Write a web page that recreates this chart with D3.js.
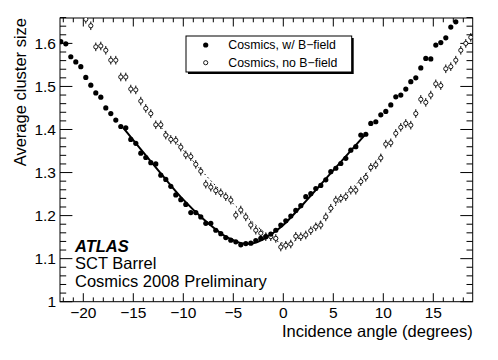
<!DOCTYPE html>
<html lang="en">
<head>
<meta charset="UTF-8" />
<title>SCT Barrel - Average cluster size vs incidence angle</title>
<script src="https://d3js.org/d3.v7.min.js"></script>
<style>
  body { margin: 0; background: #fff; }
  svg { display: block; font-family: "Liberation Sans", Arial, Helvetica, sans-serif; }
</style>
</head>
<body>
<svg width="498" height="360"></svg>
<script>
  // cosmics with magnetic field (filled markers)
  const anglesWithB = [
    -22.25, -21.75, -21.25, -20.75, -20.25, -19.75, -19.25, -18.75, -18.25, -17.75,
    -17.25, -16.75, -16.25, -15.75, -15.25, -14.75, -14.25, -13.75, -13.25, -12.75,
    -12.25, -11.75, -11.25, -10.75, -10.25, -9.75, -9.25, -8.75, -8.25, -7.75,
    -7.25, -6.75, -6.25, -5.75, -5.25, -4.75, -4.25, -3.75, -3.25, -2.75,
    -2.25, -1.75, -1.25, -0.75, -0.25, 0.25, 0.75, 1.25, 1.75, 2.25,
    2.75, 3.25, 3.75, 4.25, 4.75, 5.25, 5.75, 6.25, 6.75, 7.25,
    7.75, 8.25, 8.75, 9.25, 9.75, 10.25, 10.75, 11.25, 11.75, 12.25,
    12.75, 13.25, 13.75, 14.25, 14.75, 15.25, 15.75, 16.25, 16.75, 17.25
  ];
  const sizeWithB = [
    1.604, 1.599, 1.569, 1.557, 1.546, 1.521, 1.503, 1.485, 1.475, 1.450,
    1.437, 1.422, 1.407, 1.404, 1.377, 1.368, 1.345, 1.335, 1.323, 1.320,
    1.294, 1.284, 1.268, 1.248, 1.237, 1.226, 1.207, 1.207, 1.197, 1.182,
    1.182, 1.166, 1.158, 1.149, 1.143, 1.139, 1.132, 1.135, 1.136, 1.142,
    1.147, 1.151, 1.157, 1.166, 1.178, 1.188, 1.199, 1.212, 1.223, 1.244,
    1.251, 1.263, 1.270, 1.283, 1.302, 1.310, 1.321, 1.333, 1.352, 1.360,
    1.387, 1.389, 1.414, 1.418, 1.434, 1.442, 1.457, 1.476, 1.480, 1.494,
    1.511, 1.520, 1.543, 1.565, 1.564, 1.596, 1.602, 1.613, 1.638, 1.650
  ];

  // cosmics without magnetic field (open markers)
  const anglesNoB = [
    -19.75, -19.25, -18.75, -18.25, -17.75, -17.25, -16.75, -16.25, -15.75, -15.25,
    -14.75, -14.25, -13.75, -13.25, -12.75, -12.25, -11.75, -11.25, -10.75, -10.25,
    -9.75, -9.25, -8.75, -8.25, -7.75, -7.25, -6.75, -6.25, -5.75, -5.25,
    -4.75, -4.25, -3.75, -3.25, -2.75, -2.25, -1.75, -1.25, -0.75, -0.25,
    0.25, 0.75, 1.25, 1.75, 2.25, 2.75, 3.25, 3.75, 4.25, 4.75,
    5.25, 5.75, 6.25, 6.75, 7.25, 7.75, 8.25, 8.75, 9.25, 9.75,
    10.25, 10.75, 11.25, 11.75, 12.25, 12.75, 13.25, 13.75, 14.25, 14.75,
    15.25, 15.75, 16.25, 16.75, 17.25, 17.75, 18.25, 18.75
  ];
  const sizeNoB = [
    1.656, 1.641, 1.592, 1.594, 1.584, 1.561, 1.561, 1.522, 1.522, 1.494,
    1.492, 1.466, 1.449, 1.437, 1.411, 1.411, 1.387, 1.377, 1.375, 1.359,
    1.341, 1.337, 1.319, 1.303, 1.273, 1.266, 1.258, 1.253, 1.244, 1.236,
    1.201, 1.213, 1.197, 1.178, 1.166, 1.159, 1.151, 1.151, 1.147, 1.127,
    1.131, 1.134, 1.152, 1.151, 1.155, 1.165, 1.174, 1.178, 1.197, 1.217,
    1.236, 1.240, 1.244, 1.259, 1.259, 1.279, 1.289, 1.312, 1.318, 1.334,
    1.366, 1.369, 1.391, 1.405, 1.414, 1.410, 1.437, 1.470, 1.463, 1.480,
    1.506, 1.502, 1.541, 1.546, 1.561, 1.584, 1.600, 1.614
  ];
  const errNoB = 0.010;

  // fitted curves
  const fitWithBAngles = [-16, -14, -12, -10, -8, -6, -5, -4, -3, -2, -1, 0, 2, 4, 6, 8.3];
  const fitWithB = [1.404, 1.347, 1.291, 1.237, 1.192, 1.155, 1.143, 1.135, 1.136, 1.145, 1.160, 1.178, 1.227, 1.279, 1.331, 1.391];
  const fitNoBAngles = [-12.5, -10, -8, -6, -4, -2, -1, 0, 1, 2, 4, 6, 8, 10];
  const fitNoB = [1.411, 1.352, 1.300, 1.251, 1.205, 1.163, 1.146, 1.136, 1.140, 1.155, 1.193, 1.243, 1.290, 1.346];

  const xMajor = [-20, -15, -10, -5, 0, 5, 10, 15];
  const yMajor = [1, 1.1, 1.2, 1.3, 1.4, 1.5, 1.6];

  const svg = d3.select("svg");
  const x = d3.scaleLinear().domain([-22.33, 18.94]).range([60, 472.7]);
  const y = d3.scaleLinear().domain([1, 1.659]).range([301.7, 18]);
  const [x0, x1] = x.range(), [y0, y1] = y.range();

  const xMinor = d3.range(-22, 19, 1).filter(v => !xMajor.includes(v));
  const yMinor = d3.range(0, 34).map(i => +(1 + i * 0.02).toFixed(2)).filter(v => !yMajor.includes(v));

  svg.append("defs").append("clipPath").attr("id", "frame")
    .append("rect").attr("x", x0).attr("y", y1).attr("width", x1 - x0).attr("height", y0 - y1);

  // ticks on all four sides, ROOT style
  const ticks = svg.append("g").attr("stroke", "#000").attr("stroke-width", 1);
  const xt = (v, len) => {
    ticks.append("line").attr("x1", x(v)).attr("x2", x(v)).attr("y1", y0).attr("y2", y0 - len);
    ticks.append("line").attr("x1", x(v)).attr("x2", x(v)).attr("y1", y1).attr("y2", y1 + len);
  };
  const yt = (v, len) => {
    ticks.append("line").attr("y1", y(v)).attr("y2", y(v)).attr("x1", x0).attr("x2", x0 + len);
    ticks.append("line").attr("y1", y(v)).attr("y2", y(v)).attr("x1", x1).attr("x2", x1 - len);
  };
  xMajor.forEach(v => xt(v, 8.5));
  xMinor.forEach(v => xt(v, 4.3));
  yMajor.forEach(v => yt(v, 12.4));
  yMinor.forEach(v => yt(v, 6.2));

  svg.append("rect")
    .attr("x", x0).attr("y", y1).attr("width", x1 - x0).attr("height", y0 - y1)
    .attr("fill", "none").attr("stroke", "#000").attr("stroke-width", 1);

  // tick labels
  svg.append("g").selectAll("text").data(xMajor).join("text")
    .attr("x", d => x(d)).attr("y", 317.7)
    .attr("text-anchor", "middle").attr("font-size", "15.5px")
    .text(d3.format("d"));

  svg.append("g").selectAll("text").data(yMajor).join("text")
    .attr("x", 56).attr("y", d => y(d)).attr("dy", "0.36em")
    .attr("text-anchor", "end").attr("font-size", "15.5px")
    .text(d => String(+d.toFixed(1)));

  // axis titles
  svg.append("text")
    .attr("x", x1).attr("y", 336.7).attr("text-anchor", "end").attr("font-size", "16.5px")
    .text("Incidence angle (degrees)");
  svg.append("text")
    .attr("transform", `translate(26,${y1}) rotate(-90)`)
    .attr("text-anchor", "end").attr("font-size", "16.5px")
    .text("Average cluster size");

  // data
  const plot = svg.append("g").attr("clip-path", "url(#frame)");
  const line = d3.line().x(d => x(d[0])).y(d => y(d[1])).curve(d3.curveCatmullRom);

  plot.append("path")
    .attr("d", line(fitNoBAngles.map((a, i) => [a, fitNoB[i]])))
    .attr("fill", "none").attr("stroke", "#000").attr("stroke-width", 1)
    .attr("stroke-dasharray", "1.5,3");

  plot.append("path")
    .attr("d", line(fitWithBAngles.map((a, i) => [a, fitWithB[i]])))
    .attr("fill", "none").attr("stroke", "#000").attr("stroke-width", 2);

  const noB = anglesNoB.map((a, i) => [a, sizeNoB[i]]);
  plot.append("g").attr("stroke", "#000").attr("stroke-width", 1)
    .selectAll("line").data(noB).join("line")
    .attr("x1", d => x(d[0])).attr("x2", d => x(d[0]))
    .attr("y1", d => y(d[1] - errNoB)).attr("y2", d => y(d[1] + errNoB));
  plot.append("g").selectAll("circle").data(noB).join("circle")
    .attr("cx", d => x(d[0])).attr("cy", d => y(d[1])).attr("r", 2.1)
    .attr("fill", "#fff").attr("stroke", "#000").attr("stroke-width", 0.9);

  plot.append("g").selectAll("circle").data(anglesWithB.map((a, i) => [a, sizeWithB[i]])).join("circle")
    .attr("cx", d => x(d[0])).attr("cy", d => y(d[1])).attr("r", 2.6)
    .attr("fill", "#000");

  // legend
  const lg = svg.append("g");
  lg.append("rect").attr("x", 188).attr("y", 38).attr("width", 165.7).attr("height", 36).attr("fill", "#000");
  lg.append("rect").attr("x", 186).attr("y", 36).attr("width", 165.7).attr("height", 36)
    .attr("fill", "#fff").attr("stroke", "#000").attr("stroke-width", 1);
  lg.append("circle").attr("cx", 205.7).attr("cy", 45).attr("r", 2.6).attr("fill", "#000");
  lg.append("circle").attr("cx", 205.7).attr("cy", 62.7).attr("r", 2.1)
    .attr("fill", "#fff").attr("stroke", "#000").attr("stroke-width", 0.9);
  lg.append("text").attr("x", 228.3).attr("y", 49.4).attr("font-size", "12.3px").text("Cosmics, w/ B\u2212field");
  lg.append("text").attr("x", 228.3).attr("y", 67.1).attr("font-size", "12.3px").text("Cosmics, no B\u2212field");

  // labels
  svg.append("text").attr("x", 75).attr("y", 251.7).attr("font-size", "16.5px")
    .attr("font-weight", "bold").attr("font-style", "italic").text("ATLAS");
  svg.append("text").attr("x", 75).attr("y", 269.3).attr("font-size", "16.5px").text("SCT Barrel");
  svg.append("text").attr("x", 75).attr("y", 287.3).attr("font-size", "16.5px").text("Cosmics 2008 Preliminary");
</script>
</body>
</html>
